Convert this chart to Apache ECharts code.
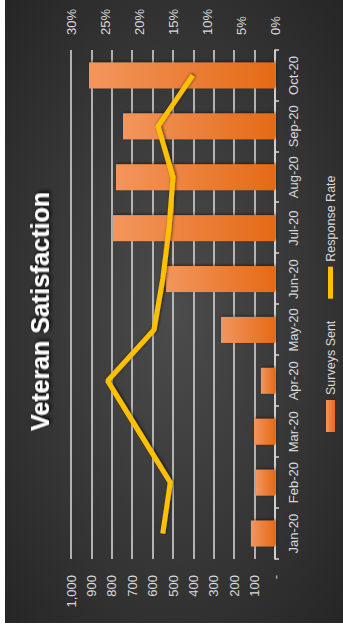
<!DOCTYPE html>
<html>
<head>
<meta charset="utf-8">
<script src="https://cdn.jsdelivr.net/npm/echarts@6/dist/echarts.min.js"></script>
<style>
  html, body { margin: 0; padding: 0; background: #ffffff; width: 343px; height: 626px; overflow: hidden; }
  /* The reference chart is a landscape chart turned 90° counter-clockwise */
  #rot { position: absolute; left: 0; top: 0; width: 626px; height: 343px;
         transform-origin: 0 0; transform: translateY(626px) rotate(-90deg); background: #ffffff; }
  #chart { position: absolute; left: 3px; top: 5px; width: 623px; height: 338px; }
</style>
</head>
<body>
<div id="rot"><div id="chart"></div></div>
<script>
const categories = ['Jan-20', 'Feb-20', 'Mar-20', 'Apr-20', 'May-20', 'Jun-20', 'Jul-20', 'Aug-20', 'Sep-20', 'Oct-20'];
const surveysSent = [118, 93, 103, 69, 265, 534, 794, 779, 745, 912];
const responseRate = [16.5, 15.4, 20.0, 24.6, 17.8, 16.5, 15.6, 15.0, 17.2, 12.1];
const countTickLabels = ['-', '100', '200', '300', '400', '500', '600', '700', '800', '900', '1,000'];
const rateTickLabels = ['0%', '5%', '10%', '15%', '20%', '25%', '30%'];

const FONT = '"Liberation Sans", Arial, sans-serif';
const TXT = '#d9d9d9';

const chart = echarts.init(document.getElementById('chart'), null, { renderer: 'svg' });
chart.setOption({
  backgroundColor: {
    type: 'radial', x: 0.5, y: 0.5, r: 0.75,
    colorStops: [{ offset: 0, color: '#4c4c4c' }, { offset: 1, color: '#232323' }]
  },
  animation: false,
  title: {
    text: 'Veteran Satisfaction',
    left: 'center', top: 17,
    textStyle: {
      color: '#ffffff', fontSize: 25, fontWeight: 'bold', fontFamily: FONT,
      textShadowColor: 'rgba(0,0,0,0.9)', textShadowBlur: 4, textShadowOffsetX: 2, textShadowOffsetY: 2
    }
  },
  legend: {
    left: 186, top: 314,
    itemWidth: 32, itemHeight: 9, itemGap: 22,
    textStyle: { color: TXT, fontSize: 12.5, fontFamily: FONT },
    data: [
      { name: 'Surveys Sent', icon: 'rect' },
      { name: 'Response Rate', icon: 'path://M0,0 H32 V5 H0 Z', itemStyle: { color: '#ffc000' } }
    ]
  },
  grid: { left: 64, right: 50, top: 66, bottom: 68 },
  xAxis: {
    type: 'category',
    data: categories,
    boundaryGap: true,
    axisLine: { show: true, lineStyle: { color: '#d9d9d9', width: 1.5 } },
    axisTick: { show: true, length: 4, lineStyle: { color: '#d9d9d9', width: 1.5 } },
    axisLabel: { color: TXT, fontSize: 13, fontFamily: FONT, margin: 12, interval: 0 }
  },
  yAxis: [
    {
      type: 'value', min: 0, max: 1000, interval: 100,
      axisLine: { show: false }, axisTick: { show: false },
      splitLine: { show: true, lineStyle: { color: '#d2d2d2', width: 1.6 } },
      axisLabel: { color: TXT, fontSize: 13, fontFamily: FONT, margin: 16,
        formatter: function (v) { return countTickLabels[Math.round(v / 100)]; } }
    },
    {
      type: 'value', min: 0, max: 30, interval: 5, position: 'right',
      axisLine: { show: false }, axisTick: { show: false }, splitLine: { show: false },
      axisLabel: { color: TXT, fontSize: 13, fontFamily: FONT, margin: 15,
        formatter: function (v) { return rateTickLabels[Math.round(v / 5)]; } }
    }
  ],
  series: [
    {
      name: 'Surveys Sent', type: 'bar', yAxisIndex: 0, barWidth: 26,
      data: surveysSent,
      itemStyle: {
        color: { type: 'linear', x: 0, y: 0, x2: 0, y2: 1,
          colorStops: [{ offset: 0, color: '#f2965d' }, { offset: 1, color: '#e56a16' }] },
        shadowColor: 'rgba(0,0,0,0.5)', shadowBlur: 3, shadowOffsetX: 1, shadowOffsetY: 1
      },
      z: 2
    },
    {
      name: 'Response Rate', type: 'line', yAxisIndex: 1,
      data: responseRate,
      symbol: 'none',
      itemStyle: { color: '#ffc000' },
      lineStyle: { color: '#ffc000', width: 5, shadowColor: 'rgba(0,0,0,0.6)', shadowBlur: 3, shadowOffsetX: 1, shadowOffsetY: 1 },
      z: 3
    }
  ]
});
</script>
</body>
</html>
